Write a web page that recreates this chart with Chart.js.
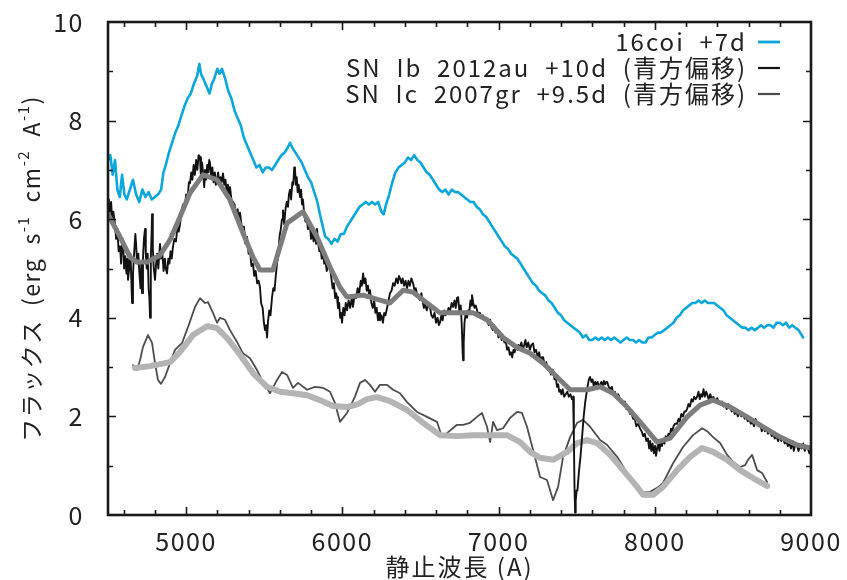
<!DOCTYPE html>
<html>
<head>
<meta charset="utf-8">
<script src="https://cdn.jsdelivr.net/npm/chart.js@4.4.1/dist/chart.umd.min.js"></script>
<style>
html,body{margin:0;padding:0;background:#fff;}
canvas{display:block;}
</style>
</head>
<body>
<canvas id="c" width="847" height="580"></canvas>
<script>
// ---- axis ticks ----
const xTickValues = [5000, 6000, 7000, 8000, 9000];
const yTickValues = [0, 2, 4, 6, 8, 10];

// ---- legend labels ----
const seriesLabels = ['16coi  +7d', 'SN  Ib  2012au  +10d  (青方偏移)', 'SN  Ic  2007gr  +9.5d  (青方偏移)'];

// ---- 16coi +7d (cyan) ----
const coiWave = [4500,4515,4530,4545,4560,4575,4590,4605,4620,4640,4660,4680,4700,4720,4740,4760,4780,4800,4820,4840,4855,4870,4890,4910,4930,4950,4970,4990,5010,5030,5050,5070,5085,5095,5110,5130,5150,5165,5180,5200,5215,5230,5250,5270,5290,5310,5330,5350,5370,5390,5410,5430,5450,5470,5490,5510,5530,5550,5570,5590,5610,5630,5650,5665,5680,5700,5720,5740,5760,5780,5800,5820,5840,5860,5875,5890,5910,5930,5950,5970,5990,6010,6030,6050,6070,6090,6110,6130,6150,6170,6190,6210,6230,6250,6265,6280,6300,6320,6340,6360,6380,6400,6420,6440,6460,6480,6500,6520,6540,6560,6580,6600,6620,6640,6660,6680,6700,6720,6740,6760,6780,6800,6820,6840,6860,6880,6900,6920,6940,6960,6980,7000,7020,7040,7060,7080,7100,7120,7140,7160,7180,7200,7220,7240,7260,7280,7300,7320,7340,7360,7380,7400,7420,7440,7460,7480,7500,7520,7540,7560,7580,7600,7620,7640,7660,7680,7700,7720,7740,7760,7780,7800,7820,7840,7860,7880,7900,7920,7940,7960,7980,8000,8020,8040,8060,8080,8100,8120,8140,8160,8180,8200,8220,8240,8260,8280,8300,8320,8340,8360,8380,8400,8420,8440,8460,8480,8500,8520,8540,8560,8580,8600,8620,8640,8660,8680,8700,8720,8740,8760,8780,8800,8820,8840,8860,8880,8900,8920,8940,8950];
const coiFlux = [7.2,7.3,6.9,7.2,6.6,6.45,6.9,6.5,6.4,6.6,6.8,6.5,6.35,6.6,6.45,6.55,6.4,6.45,6.5,6.6,6.95,7.1,7.35,7.55,7.75,7.9,8.1,8.3,8.45,8.55,8.75,8.9,9.15,8.95,8.85,8.7,8.55,8.75,8.85,9.05,8.95,9.05,8.85,8.6,8.45,8.2,8.05,7.9,7.65,7.5,7.35,7.2,7.05,7.1,6.95,7.05,7.05,7.0,7.1,7.2,7.3,7.35,7.45,7.55,7.45,7.35,7.25,7.15,7.0,6.85,6.75,6.55,6.35,6.05,5.85,5.65,5.6,5.5,5.6,5.55,5.7,5.7,5.85,5.95,6.05,6.15,6.25,6.3,6.35,6.3,6.35,6.3,6.35,6.15,6.1,6.3,6.5,6.75,6.95,7.05,7.1,7.15,7.25,7.2,7.3,7.2,7.15,7.05,6.95,6.9,6.8,6.7,6.6,6.55,6.6,6.5,6.6,6.55,6.55,6.5,6.45,6.4,6.35,6.35,6.25,6.2,6.1,6.05,5.95,5.85,5.75,5.65,5.55,5.45,5.4,5.3,5.25,5.2,5.1,5.0,4.9,4.8,4.7,4.65,4.55,4.5,4.45,4.35,4.3,4.2,4.1,4.05,3.95,3.9,3.85,3.8,3.75,3.7,3.6,3.65,3.55,3.55,3.6,3.55,3.6,3.55,3.6,3.55,3.6,3.55,3.5,3.55,3.6,3.55,3.55,3.5,3.55,3.5,3.5,3.6,3.6,3.65,3.7,3.7,3.75,3.8,3.85,3.9,4.0,4.05,4.15,4.2,4.25,4.3,4.3,4.35,4.3,4.35,4.3,4.3,4.3,4.25,4.2,4.15,4.05,4.0,3.95,3.9,3.85,3.8,3.8,3.75,3.8,3.75,3.8,3.85,3.8,3.85,3.85,3.8,3.9,3.9,3.85,3.9,3.8,3.85,3.8,3.75,3.65,3.6];

// ---- SN Ib 2012au +10d (black, noisy) ----
const ibWave = [4500,4506,4513,4520,4527,4534,4545,4552,4560,4568,4577,4584,4590,4596,4603,4610,4618,4624,4628,4636,4644,4650,4654,4660,4668,4675,4680,4686,4694,4700,4708,4713,4718,4724,4730,4737,4742,4748,4754,4760,4765,4769,4774,4778,4782,4787,4793,4801,4808,4815,4822,4833,4840,4848,4856,4864,4870,4878,4886,4893,4900,4908,4916,4925,4935,4945,4953,4961,4970,4980,4990,5000,5010,5018,5025,5033,5040,5048,5056,5064,5072,5080,5089,5095,5102,5110,5116,5121,5128,5135,5142,5148,5153,5160,5168,5176,5184,5190,5198,5205,5212,5220,5228,5236,5244,5252,5260,5268,5275,5281,5290,5300,5310,5320,5330,5338,5345,5354,5362,5370,5380,5390,5400,5410,5418,5428,5436,5445,5455,5464,5473,5480,5490,5498,5505,5512,5518,5525,5532,5540,5550,5558,5566,5574,5582,5590,5598,5606,5614,5620,5628,5636,5644,5652,5658,5665,5672,5680,5686,5692,5697,5703,5708,5714,5720,5729,5736,5742,5748,5756,5764,5772,5780,5786,5793,5800,5808,5816,5825,5832,5838,5846,5853,5860,5868,5876,5884,5892,5900,5910,5921,5930,5938,5946,5954,5960,5966,5972,5980,5986,5992,5998,6006,6014,6022,6030,6040,6050,6060,6068,6078,6088,6098,6108,6118,6125,6133,6140,6148,6156,6164,6170,6177,6186,6195,6204,6212,6220,6228,6235,6241,6250,6260,6268,6276,6286,6296,6305,6315,6325,6335,6345,6355,6362,6369,6378,6386,6395,6405,6414,6423,6432,6442,6453,6462,6470,6480,6490,6497,6506,6514,6522,6530,6540,6550,6561,6570,6580,6590,6600,6610,6618,6625,6634,6642,6652,6660,6670,6680,6690,6700,6709,6718,6726,6734,6741,6750,6758,6765,6770,6773,6777,6782,6790,6798,6805,6812,6820,6826,6830,6838,6846,6854,6862,6870,6880,6890,6900,6910,6920,6930,6938,6946,6955,6964,6972,6980,6990,7000,7010,7020,7029,7038,7046,7055,7064,7072,7080,7087,7095,7103,7112,7120,7128,7138,7146,7155,7164,7172,7180,7190,7200,7210,7221,7230,7240,7250,7260,7270,7278,7285,7295,7305,7315,7325,7335,7342,7349,7358,7366,7374,7382,7388,7394,7402,7410,7420,7430,7440,7450,7460,7470,7477,7482,7486,7490,7494,7500,7505,7515,7525,7535,7545,7555,7567,7578,7586,7594,7602,7610,7618,7626,7634,7642,7650,7658,7666,7674,7682,7690,7695,7705,7715,7725,7735,7745,7755,7765,7778,7788,7798,7808,7818,7828,7842,7852,7862,7872,7882,7894,7906,7916,7926,7936,7946,7956,7964,7970,7978,7986,7994,8002,8008,8015,8022,8030,8038,8046,8054,8062,8070,8079,8088,8096,8104,8112,8120,8130,8143,8152,8160,8170,8180,8190,8198,8207,8216,8225,8235,8244,8252,8262,8271,8280,8288,8296,8304,8312,8320,8328,8335,8345,8355,8365,8375,8385,8399,8410,8420,8430,8440,8450,8460,8470,8482,8492,8502,8512,8522,8532,8542,8554,8565,8575,8585,8595,8605,8615,8625,8635,8645,8655,8665,8675,8685,8695,8705,8715,8725,8738,8748,8758,8768,8778,8790,8800,8810,8821,8832,8842,8852,8862,8872,8882,8890,8900,8911,8920,8930,8940,8950,8960,8970,8980,8990,9000];
const ibFlux = [6.4,6.0,6.25,6.35,5.95,6.15,5.9,5.6,5.8,5.35,5.45,5.1,5.55,5.6,5.0,5.25,4.9,5.2,4.77,5.0,5.3,4.7,4.3,4.9,5.35,5.7,5.5,5.1,5.3,4.95,4.6,5.1,4.5,5.2,5.6,5.8,5.3,5.0,5.3,4.6,4.4,4.0,5.2,5.6,6.1,5.4,5.0,4.77,5.1,5.3,5.0,5.5,5.2,5.3,4.95,5.2,5.0,4.9,5.2,5.1,5.35,5.2,5.45,5.6,5.55,5.85,5.75,5.9,6.15,6.3,6.2,6.5,6.45,6.75,6.73,6.95,6.8,7.1,6.9,7.2,7.0,7.3,7.26,6.85,7.15,6.9,6.65,7.0,6.8,7.1,6.95,7.2,7.14,6.85,7.05,6.75,6.95,6.7,6.8,6.95,6.7,6.85,6.75,6.93,6.7,6.8,6.55,6.7,6.5,6.65,6.4,6.35,6.3,6.1,6.2,5.95,6.13,5.9,5.8,5.85,5.5,5.64,5.3,5.35,5.05,5.1,4.85,4.95,4.7,4.75,4.62,4.3,4.2,3.9,3.75,3.85,3.6,3.95,4.15,4.05,4.42,4.6,4.55,4.85,5.1,5.3,5.65,5.8,6.0,6.18,5.9,6.2,6.35,6.25,6.5,6.6,6.4,6.75,6.7,7.05,7.0,6.7,6.85,6.55,6.7,6.45,6.6,6.3,6.4,6.1,5.95,6.05,5.8,5.95,5.85,5.6,5.75,5.55,5.7,5.5,5.8,5.5,5.35,5.45,5.2,5.3,5.1,5.15,4.95,5.05,5.03,4.8,4.6,4.7,4.4,4.5,4.42,4.2,4.3,4.0,4.1,3.9,4.2,4.05,4.3,4.15,4.35,4.2,4.4,4.22,4.45,4.4,4.6,4.5,4.75,4.65,4.9,4.7,4.8,4.55,4.65,4.5,4.56,4.3,4.2,4.35,4.1,4.2,3.95,4.1,3.95,4.05,3.9,4.1,4.05,4.2,4.35,4.5,4.55,4.7,4.65,4.8,4.7,4.85,4.8,4.7,4.8,4.65,4.75,4.6,4.75,4.65,4.8,4.7,4.55,4.6,4.45,4.4,4.36,4.5,4.35,4.2,4.3,4.15,4.25,4.22,4.05,4.0,4.1,3.9,4.0,3.85,3.9,4.05,3.95,4.15,4.05,4.1,4.2,4.15,4.3,4.22,4.35,4.2,4.4,4.42,4.1,4.25,3.8,3.3,3.14,3.5,3.9,4.1,4.0,4.15,4.1,4.35,4.25,4.46,4.3,4.2,4.25,4.16,4.05,4.1,4.0,4.05,3.95,4.0,3.9,3.85,3.96,3.8,3.75,3.85,3.7,3.75,3.6,3.7,3.55,3.6,3.5,3.55,3.35,3.4,3.25,3.3,3.2,3.35,3.3,3.45,3.35,3.45,3.4,3.5,3.35,3.45,3.55,3.4,3.5,3.35,3.45,3.48,3.3,3.35,3.2,3.3,3.1,3.2,3.2,3.05,3.1,2.95,3.0,2.85,2.95,2.94,2.75,2.8,2.6,2.65,2.5,2.54,2.45,2.55,2.4,2.45,2.5,2.4,2.45,2.35,2.4,1.6,0.6,0.05,0.3,0.5,0.5,0.9,1.2,1.6,2.0,2.3,2.55,2.75,2.8,2.7,2.75,2.6,2.7,2.65,2.7,2.6,2.65,2.7,2.6,2.72,2.65,2.7,2.7,2.6,2.55,2.6,2.45,2.5,2.4,2.45,2.35,2.3,2.25,2.3,2.15,2.2,2.05,2.05,1.95,1.95,1.8,1.85,1.75,1.7,1.6,1.65,1.5,1.55,1.35,1.5,1.3,1.45,1.25,1.4,1.2,1.35,1.45,1.3,1.5,1.4,1.55,1.45,1.6,1.55,1.65,1.6,1.75,1.7,1.8,1.85,1.85,1.95,1.9,2.05,2.0,2.1,2.1,2.15,2.25,2.2,2.35,2.3,2.4,2.35,2.4,2.5,2.35,2.45,2.4,2.55,2.4,2.5,2.45,2.35,2.45,2.35,2.4,2.3,2.37,2.3,2.25,2.3,2.2,2.25,2.15,2.25,2.2,2.1,2.15,2.05,2.1,2.0,2.1,2.0,2.07,1.95,2.0,1.9,1.95,1.85,1.9,1.8,1.95,1.85,1.8,1.85,1.7,1.8,1.7,1.75,1.65,1.72,1.6,1.65,1.55,1.6,1.5,1.6,1.5,1.56,1.45,1.5,1.4,1.45,1.35,1.5,1.3,1.45,1.42,1.3,1.4,1.35,1.45,1.3,1.4,1.35,1.25,1.35];

// ---- SN Ib 2012au smoothed (dark gray) ----
const ibSmoothWave = [4500,4577,4641,4686,4750,4833,4897,4961,5025,5108,5198,5281,5364,5428,5473,5556,5601,5646,5748,5838,5921,5985,6030,6133,6241,6305,6389,6453,6542,6625,6734,6837,6926,7029,7118,7202,7285,7375,7458,7567,7650,7733,7823,7906,8015,8098,8207,8290,8373,8482,8591,8693,8802,8911,9000];
const ibSmoothFlux = [6.1,5.64,5.23,5.13,5.13,5.27,5.58,6.05,6.53,6.9,6.8,6.39,5.72,5.23,4.97,4.97,5.44,5.92,6.15,5.64,5.03,4.62,4.42,4.46,4.36,4.3,4.56,4.52,4.3,4.1,4.1,4.1,3.96,3.6,3.4,3.28,3.08,2.8,2.54,2.54,2.6,2.47,2.19,1.89,1.48,1.56,1.99,2.23,2.33,2.19,1.99,1.79,1.58,1.42,1.36];

// ---- SN Ic 2007gr +9.5d (thin gray) ----
const icWave = [4660,4686,4705,4724,4756,4782,4801,4820,4839,4865,4897,4929,4974,5012,5057,5089,5121,5140,5172,5198,5217,5249,5281,5326,5364,5409,5454,5492,5537,5582,5614,5646,5684,5716,5774,5825,5876,5921,5953,5985,6030,6081,6113,6145,6177,6209,6241,6286,6325,6369,6414,6478,6542,6606,6638,6670,6734,6773,6817,6862,6894,6926,6946,6965,6990,7029,7074,7118,7150,7182,7221,7266,7310,7349,7381,7413,7458,7503,7541,7586,7650,7695,7759,7823,7861,7906,7970,8015,8053,8117,8181,8245,8303,8335,8373,8418,8463,8501,8546,8578,8597,8623,8655,8687,8719];
const icFlux = [3.04,2.94,3.14,3.41,3.65,3.49,3.08,2.74,2.66,2.8,3.08,3.35,3.49,3.81,4.22,4.4,4.3,4.32,4.1,3.9,4.0,3.96,3.75,3.51,3.28,3.18,2.94,2.7,2.47,2.74,2.9,2.84,2.58,2.68,2.54,2.6,2.58,2.5,2.27,1.89,2.07,2.4,2.68,2.74,2.64,2.5,2.64,2.64,2.54,2.47,2.29,2.09,1.99,1.89,1.58,1.66,1.83,1.83,1.87,1.99,2.07,1.79,1.48,1.89,1.72,1.76,1.97,2.09,2.07,1.79,1.32,0.77,0.71,0.3,0.57,1.18,1.58,1.87,1.93,1.79,1.52,1.42,1.18,0.85,0.65,0.45,0.47,0.55,0.65,1.05,1.38,1.62,1.76,1.7,1.58,1.46,1.22,1.08,0.97,1.01,1.12,1.22,0.91,0.85,0.67];

// ---- SN Ic 2007gr smoothed (light gray) ----
const icSmoothWave = [4673,4769,4897,4961,5044,5134,5198,5262,5345,5428,5518,5601,5684,5774,5857,5940,6030,6100,6158,6222,6305,6414,6517,6625,6734,6837,6946,7054,7138,7202,7266,7349,7439,7503,7567,7631,7714,7797,7887,7925,7989,8053,8143,8226,8303,8373,8463,8546,8629,8719];
const icSmoothFlux = [2.98,3.02,3.1,3.31,3.65,3.83,3.79,3.59,3.25,2.88,2.6,2.5,2.47,2.43,2.33,2.21,2.19,2.25,2.35,2.39,2.31,2.13,1.87,1.62,1.6,1.62,1.62,1.62,1.48,1.28,1.16,1.12,1.28,1.46,1.52,1.46,1.22,0.91,0.57,0.41,0.41,0.57,0.91,1.18,1.36,1.28,1.12,0.91,0.75,0.59];

const toXY = (w, f) => w.map((x, i) => ({x: x, y: f[i]}));

const FONT = "'Noto Sans CJK JP', 'Liberation Sans', sans-serif";
const C_CYAN = '#0aa6dc', C_BLACK = '#121212', C_DGRAY = '#7d7d7d', C_THIN = '#4d4d4d', C_LGRAY = '#b4b4b4';

const zeroPad = (s) => { s.paddingTop = 0; s.paddingBottom = 0; s.paddingLeft = 0; s.paddingRight = 0; };

const framePlugin = {
  id: 'frame',
  beforeDraw(chart) { chart.ctx.letterSpacing = '1.5px'; },
  afterDatasetsDraw(chart) {
    const ctx = chart.ctx, a = chart.chartArea, xs = chart.scales.x, ys = chart.scales.y;
    ctx.save();
    ctx.strokeStyle = '#1a1a1a';
    ctx.lineWidth = 1.6;
    ctx.beginPath();
    for (let v = 4600; v < 9000; v += 200) {
      const px = Math.round(xs.getPixelForValue(v)) + 0.5;
      const len = (v % 1000 === 0) ? 8 : 5;
      ctx.moveTo(px, a.bottom); ctx.lineTo(px, a.bottom - len);
      ctx.moveTo(px, a.top); ctx.lineTo(px, a.top + len);
    }
    for (let v = 1; v < 10; v += 1) {
      const py = Math.round(ys.getPixelForValue(v)) + 0.5;
      const len = (v % 2 === 0) ? 8 : 5;
      ctx.moveTo(a.left, py); ctx.lineTo(a.left + len, py);
      ctx.moveTo(a.right, py); ctx.lineTo(a.right - len, py);
    }
    ctx.stroke();
    ctx.lineWidth = 2.6;
    ctx.strokeRect(a.left, a.top, a.right - a.left, a.bottom - a.top);
    ctx.restore();
  },
  afterDraw(chart) {
    const ctx = chart.ctx, a = chart.chartArea;
    ctx.save();
    ctx.fillStyle = '#222';
    // legend
    ctx.font = '24px ' + FONT;
    ctx.letterSpacing = '2px';
    ctx.textAlign = 'right';
    ctx.textBaseline = 'middle';
    const cols = [C_CYAN, C_BLACK, C_THIN];
    const rowsY = [42, 68, 94];
    for (let i = 0; i < seriesLabels.length; i++) {
      ctx.fillStyle = '#222';
      ctx.fillText(seriesLabels[i], 747, rowsY[i]);
      ctx.strokeStyle = cols[i];
      ctx.lineWidth = i === 0 ? 2.8 : 2.2;
      ctx.beginPath();
      ctx.moveTo(758, rowsY[i]); ctx.lineTo(780, rowsY[i]);
      ctx.stroke();
    }
    // x title
    ctx.fillStyle = '#222';
    ctx.textAlign = 'center';
    ctx.textBaseline = 'alphabetic';
    ctx.letterSpacing = '2px';
    ctx.font = '24px ' + FONT;
    ctx.fillText('静止波長 (A)', (a.left + a.right) / 2, 576);
    // y title with superscripts
    const parts = [
      ['フラックス  (erg  s', false], ['-1', true], ['  cm', false], ['-2', true], ['  A', false], ['-1', true], [')', false]
    ];
    const mainF = '23px ' + FONT, supF = '15px ' + FONT;
    ctx.letterSpacing = '1.5px';
    let total = 0;
    for (const [t, s] of parts) { ctx.font = s ? supF : mainF; total += ctx.measureText(t).width; }
    ctx.translate(31, (a.top + a.bottom) / 2);
    ctx.rotate(-Math.PI / 2);
    ctx.textAlign = 'left';
    ctx.textBaseline = 'middle';
    let x = -total / 2;
    for (const [t, s] of parts) {
      ctx.font = s ? supF : mainF;
      ctx.fillText(t, x, s ? -8 : 0);
      x += ctx.measureText(t).width;
    }
    ctx.restore();
  }
};

new Chart(document.getElementById('c'), {
  type: 'line',
  data: {
    datasets: [
      { label: seriesLabels[0], data: toXY(coiWave, coiFlux), borderColor: C_CYAN, borderWidth: 2.6, order: 1 },
      { label: 'smooth Ib', data: toXY(ibSmoothWave, ibSmoothFlux), borderColor: C_DGRAY, borderWidth: 5, order: 2 },
      { label: seriesLabels[1], data: toXY(ibWave, ibFlux), borderColor: C_BLACK, borderWidth: 1.9, order: 3 },
      { label: 'smooth Ic', data: toXY(icSmoothWave, icSmoothFlux), borderColor: C_LGRAY, borderWidth: 6, order: 4 },
      { label: seriesLabels[2], data: toXY(icWave, icFlux), borderColor: C_THIN, borderWidth: 1.8, order: 5 }
    ]
  },
  options: {
    responsive: false,
    animation: false,
    devicePixelRatio: 1,
    elements: { point: { radius: 0 }, line: { tension: 0, fill: false, borderJoinStyle: 'round', borderCapStyle: 'round' } },
    layout: { padding: { top: 22, right: 36, left: 0, bottom: 0 } },
    plugins: { legend: { display: false }, tooltip: { enabled: false }, title: { display: false } },
    scales: {
      x: {
        type: 'linear', min: 4500, max: 9000,
        grid: { display: false }, border: { display: false },
        afterBuildTicks: (s) => { s.ticks = xTickValues.map(v => ({ value: v })); },
        ticks: { font: { size: 25, family: FONT }, color: '#222', padding: 3, maxRotation: 0, autoSkip: false, callback: (v) => String(v) },
        afterFit: (s) => { s.height = 65; zeroPad(s); }
      },
      y: {
        type: 'linear', min: 0, max: 10,
        grid: { display: false }, border: { display: false },
        afterBuildTicks: (s) => { s.ticks = yTickValues.map(v => ({ value: v })); },
        ticks: { font: { size: 25, family: FONT }, color: '#222', padding: 16, autoSkip: false, callback: (v) => String(v) },
        afterFit: (s) => { s.width = 108; zeroPad(s); }
      }
    }
  },
  plugins: [framePlugin]
});
</script>
</body>
</html>
